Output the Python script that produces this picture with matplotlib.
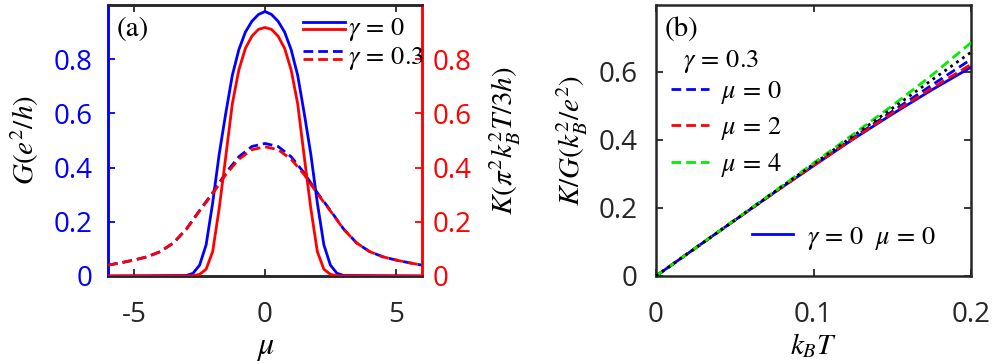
import matplotlib
matplotlib.use("Agg")
import matplotlib.pyplot as plt
import numpy as np
from matplotlib.lines import Line2D
from matplotlib.legend_handler import HandlerBase
from matplotlib.ticker import FuncFormatter

# ---------------- data: panel (a) ----------------
mu_solid = [-6, -3.0, -2.75, -2.5, -2.25, -2.0, -1.75, -1.5, -1.25, -1.0, -0.75, -0.5, -0.25,
            0, 0.25, 0.5, 0.75, 1.0, 1.25, 1.5, 1.75, 2.0, 2.25, 2.5, 2.75, 3.0, 6]
G_gamma0 = [0, 0.002, 0.01, 0.04, 0.115, 0.27, 0.45, 0.60, 0.74, 0.835, 0.90, 0.94, 0.965,
            0.976, 0.965, 0.94, 0.90, 0.835, 0.74, 0.60, 0.45, 0.27, 0.115, 0.04, 0.01, 0.002, 0]
K_gamma0 = [0, 0.0, 0.001, 0.006, 0.025, 0.09, 0.25, 0.44, 0.635, 0.76, 0.84, 0.885, 0.91,
            0.917, 0.91, 0.885, 0.84, 0.76, 0.635, 0.44, 0.25, 0.09, 0.025, 0.006, 0.001, 0.0, 0]

mu_dash = [-6, -5.5, -5, -4.5, -4, -3.5, -3, -2.5, -2, -1.5, -1, -0.5,
           0, 0.5, 1, 1.5, 2, 2.5, 3, 3.5, 4, 4.5, 5, 5.5, 6]
G_gamma03 = [0.04, 0.049, 0.059, 0.071, 0.09, 0.122, 0.174, 0.242, 0.307, 0.38, 0.44, 0.478,
             0.489, 0.478, 0.44, 0.38, 0.307, 0.242, 0.174, 0.122, 0.09, 0.071, 0.059, 0.049, 0.04]
K_gamma03 = [0.04, 0.049, 0.059, 0.071, 0.09, 0.122, 0.173, 0.240, 0.304, 0.374, 0.431, 0.466,
             0.477, 0.466, 0.431, 0.374, 0.304, 0.240, 0.173, 0.122, 0.09, 0.071, 0.059, 0.049, 0.04]

# ---------------- data: panel (b) ----------------
kT = [0, 0.025, 0.05, 0.075, 0.1, 0.125, 0.15, 0.175, 0.2]
ratio_WF = [0, 0.082, 0.164, 0.247, 0.329, 0.411, 0.493, 0.576, 0.658]
ratio_g0_mu0 = [0, 0.082, 0.164, 0.245, 0.324, 0.402, 0.476, 0.547, 0.614]
ratio_g03_mu0 = [0, 0.082, 0.164, 0.246, 0.326, 0.406, 0.484, 0.561, 0.637]
ratio_g03_mu2 = [0, 0.082, 0.164, 0.245, 0.325, 0.403, 0.479, 0.552, 0.622]
ratio_g03_mu4 = [0, 0.082, 0.165, 0.248, 0.332, 0.416, 0.501, 0.590, 0.686]

xticks_a = [-5, 0, 5]
yticks_a = [0, 0.2, 0.4, 0.6, 0.8]
xticks_b = [0, 0.1, 0.2]
yticks_b = [0, 0.2, 0.4, 0.6]

# ---------------- style ----------------
plt.rcParams['mathtext.fontset'] = 'stix'
plt.rcParams['font.family'] = ['Open Sans', 'DejaVu Sans']
TICKFS = 20
LABFS = 21
LEGFS = 19
BLUE = '#0000ff'
RED = '#ff0000'
GREEN = '#00ee00'
DARK = '#262626'
LW = 2.0
DASH = (3.5, 1.8)

fmt = FuncFormatter(lambda v, p: '0' if abs(v) < 1e-9 else ('%g' % v))

fig = plt.figure(figsize=(9.96, 3.64), dpi=100)
ax1 = fig.add_axes([108/996, 1-276/364, 314/996, 271/364])
ax1r = ax1.twinx()
ax2 = fig.add_axes([656/996, 1-276/364, 315/996, 271/364])


class HandlerStack(HandlerBase):
    def create_artists(self, legend, orig_handle, xdescent, ydescent,
                       width, height, fontsize, trans):
        arts = []
        offs = [height/2 + 2.6, height/2 - 2.6]
        for h, yo in zip(orig_handle, offs):
            l = Line2D([-xdescent, -xdescent + width], [yo - ydescent]*2)
            l.update_from(h)
            l.set_transform(trans)
            arts.append(l)
        return arts


# ---- panel (a) ----
bs, = ax1.plot(mu_solid, G_gamma0, color=BLUE, lw=LW, zorder=3)
bd, = ax1.plot(mu_dash, G_gamma03, color=BLUE, lw=LW, dashes=DASH, zorder=3)
rs, = ax1r.plot(mu_solid, K_gamma0, color=RED, lw=LW, zorder=3)
rd, = ax1r.plot(mu_dash, K_gamma03, color=RED, lw=LW, dashes=DASH, zorder=3)

for a in (ax1, ax1r):
    a.set_xlim(-6, 6)
    a.set_ylim(0, 1)
    a.set_yticks(yticks_a)
    a.yaxis.set_major_formatter(fmt)
ax1.set_xticks(xticks_a)
ax1.xaxis.set_major_formatter(fmt)
ax1.tick_params(axis='x', direction='in', length=5, width=1.3, color=DARK,
                labelcolor=DARK, labelsize=TICKFS, top=True, pad=18)
ax1.tick_params(axis='y', direction='in', length=5, width=1.3, color=BLUE,
                labelcolor=BLUE, labelsize=TICKFS, pad=11)
ax1r.tick_params(axis='y', direction='in', length=5, width=1.3, color=RED,
                 labelcolor=RED, labelsize=TICKFS, pad=8)
for a in (ax1, ax1r):
    a.spines['left'].set_color(BLUE)
    a.spines['right'].set_color(RED)
    a.spines['top'].set_color(DARK)
    a.spines['bottom'].set_color(DARK)
    for s in a.spines.values():
        s.set_linewidth(1.8)
ax1.set_xlabel(r'$\mu$', fontsize=LABFS + 2, labelpad=1)
ax1.set_ylabel(r'$G(e^2/h)$', fontsize=LABFS, labelpad=9)
ax1r.set_ylabel(r'$K(\pi^2k_B^2T/3h)$', fontsize=LABFS, labelpad=11)
ax1r.text(0.028, 0.955, '(a)', transform=ax1r.transAxes, fontsize=21,
          family='STIXGeneral', va='top', ha='left')
leg1 = ax1r.legend([(bs, rs), (bd, rd)], [r'$\gamma\,=\,0$', r'$\gamma\,=\,0.3$'],
                   handler_map={tuple: HandlerStack()},
                   loc='center left', bbox_to_anchor=(0.621, 0.856), frameon=False,
                   fontsize=LEGFS, handlelength=1.6, handletextpad=0.12,
                   labelspacing=0.1, borderaxespad=0, borderpad=0)

# ---- panel (b) ----
l_g0, = ax2.plot(kT, ratio_g0_mu0, color=BLUE, lw=LW, zorder=3)
l_m0, = ax2.plot(kT, ratio_g03_mu0, color=BLUE, lw=LW, dashes=DASH, zorder=3)
l_m2, = ax2.plot(kT, ratio_g03_mu2, color=RED, lw=LW, dashes=DASH, zorder=3)
l_m4, = ax2.plot(kT, ratio_g03_mu4, color=GREEN, lw=LW, dashes=DASH, zorder=3)
l_wf, = ax2.plot(kT, ratio_WF, color='black', lw=LW, dashes=(1, 1.6), zorder=4)
ax2.set_xlim(0, 0.2)
ax2.set_ylim(0, 0.797)
ax2.set_xticks(xticks_b)
ax2.set_yticks(yticks_b)
ax2.xaxis.set_major_formatter(fmt)
ax2.yaxis.set_major_formatter(fmt)
ax2.tick_params(axis='both', direction='in', length=5, width=1.3, color=DARK,
                labelcolor=DARK, labelsize=TICKFS, top=True, right=True)
ax2.tick_params(axis='x', pad=18)
ax2.tick_params(axis='y', pad=13)
for s in ax2.spines.values():
    s.set_color(DARK)
    s.set_linewidth(1.8)
ax2.set_xlabel(r'$k_BT$', fontsize=LABFS, labelpad=2)
ax2.set_ylabel(r'$K/G(k_B^2/e^2)$', fontsize=LABFS, labelpad=6)
ax2.text(0.028, 0.955, '(b)', transform=ax2.transAxes, fontsize=21,
         family='STIXGeneral', va='top', ha='left')
ax2.text(0.086, 0.793, r'$\gamma\,=\,0.3$', transform=ax2.transAxes, fontsize=LEGFS,
         va='center', ha='left')
leg2 = ax2.legend([l_m0, l_m2, l_m4], [r'$\mu\,=\,0$', r'$\mu\,=\,2$', r'$\mu\,=\,4$'],
                  loc='center left', bbox_to_anchor=(0.048, 0.542), frameon=False,
                  fontsize=LEGFS, handlelength=1.45, handletextpad=0.45,
                  labelspacing=0.35, borderaxespad=0, borderpad=0)
ax2.add_artist(leg2)
leg3 = ax2.legend([l_g0], [r'$\gamma\,=\,0\ \ \mu\,=\,0$'],
                  loc='center left', bbox_to_anchor=(0.305, 0.14), frameon=False,
                  fontsize=LEGFS, handlelength=1.55, handletextpad=0.55,
                  borderaxespad=0, borderpad=0)

fig.savefig('out.png', dpi=100)
